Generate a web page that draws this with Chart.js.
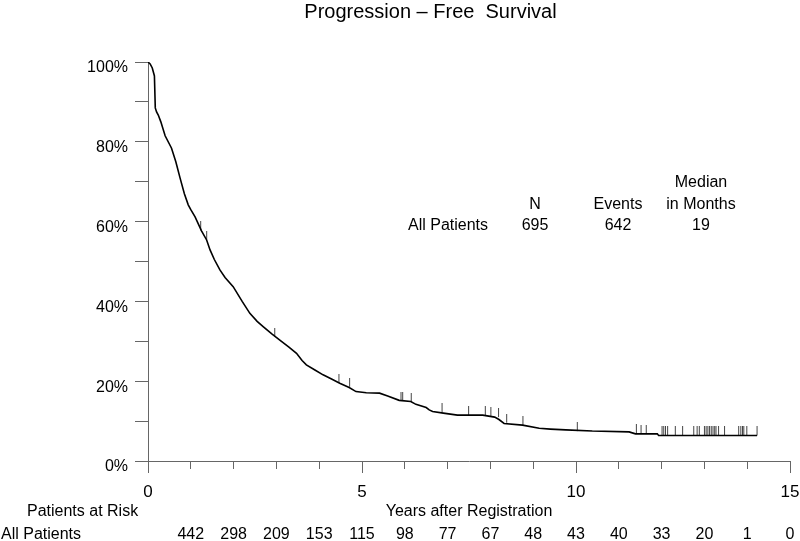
<!DOCTYPE html>
<html lang="en">
<head>
<meta charset="UTF-8">
<title>Progression - Free Survival</title>
<style>
  html, body { margin: 0; padding: 0; background: #fff; }
  #wrap { width: 800px; height: 541px; }
</style>
</head>
<body>
<div id="wrap"><canvas id="pfsChart" width="800" height="541"></canvas></div>

<script src="https://cdn.jsdelivr.net/npm/chart.js"></script>
<script>
// Kaplan-Meier curve (years, % progression-free)
const curveYears = [0, 0.05, 0.1, 0.15, 0.17, 0.2, 0.24, 0.3, 0.4, 0.55, 0.65, 0.75, 0.85, 0.94, 1.0,
  1.1, 1.25, 1.37, 1.45, 1.55, 1.68, 1.8, 1.99, 2.2, 2.38, 2.55, 2.69, 2.9, 3.08, 3.3, 3.47, 3.6,
  3.7, 3.9, 4.09, 4.3, 4.48, 4.7, 4.86, 5.1, 5.41, 5.6, 5.87, 6.14, 6.26, 6.5, 6.57, 6.65, 6.9,
  7.23, 7.82, 8.1, 8.2, 8.32, 8.75, 9.14, 9.4, 9.76, 10.38, 11.24, 11.39, 11.9, 11.93, 14.23];
const curveSurvival = [100, 99.5, 98.5, 96.5, 88.5, 87.5, 86.7, 85, 81.5, 78.4, 75, 70.9, 67, 64.2, 63,
  61.2, 57.7, 55.4, 52.9, 50.5, 47.9, 46, 43.7, 40, 37, 35, 33.7, 31.8, 30.3, 28.5, 27, 25.2,
  24.1, 22.8, 21.6, 20.5, 19.5, 18.4, 17.4, 17.1, 17, 16.3, 15.2, 14.9, 14.2, 13.4, 12.8, 12.4, 12,
  11.5, 11.5, 11, 10.4, 9.4, 9, 8.2, 8, 7.8, 7.5, 7.3, 6.8, 6.8, 6.4, 6.4];

// censored observations (tick marks on the curve)
const censorYears = [1.23, 1.37, 2.96, 4.46, 4.71, 5.91, 5.95, 6.15, 6.87, 7.49, 7.88, 8.01, 8.19,
  8.38, 8.76, 10.03, 11.41, 11.52, 11.64, 12.01, 12.05, 12.09, 12.14, 12.32, 12.49, 12.75, 12.83,
  12.88, 13.0, 13.04, 13.08, 13.12, 13.16, 13.2, 13.24, 13.27, 13.33, 13.47, 13.8, 13.85, 13.89,
  13.92, 13.99, 14.23];
const censorSurvival = [57.8, 55.5, 31.2, 19.6, 18.6, 15.1, 15.1, 14.9, 12.2, 11.5, 11.5, 11.3, 11,
  9.6, 9, 7.5, 6.9, 6.8, 6.8, 6.4, 6.4, 6.4, 6.4, 6.4, 6.4, 6.4, 6.4,
  6.4, 6.4, 6.4, 6.4, 6.4, 6.4, 6.4, 6.4, 6.4, 6.4, 6.4, 6.4, 6.4, 6.4,
  6.4, 6.4, 6.4];

// patients at risk table
const riskYears = [1, 2, 3, 4, 5, 6, 7, 8, 9, 10, 11, 12, 13, 14, 15];
const riskCounts = [442, 298, 209, 153, 115, 98, 77, 67, 48, 43, 40, 33, 20, 1, 0];

// summary table
const groupName = 'All Patients';
const groupN = 695;
const groupEvents = 642;
const groupMedian = 19;

const FONT = '"Liberation Sans", Arial, Helvetica, sans-serif';
const AXIS = '#666';

// censor mark: a short vertical stroke rising from the point
const tickMark = document.createElement('canvas');
tickMark.width = 3;
tickMark.height = 18;
const tctx = tickMark.getContext('2d');
tctx.fillStyle = '#444';
tctx.fillRect(1, 0, 1, 9);

const textLayer = {
  id: 'textLayer',
  afterDraw(chart) {
    const { ctx, scales: { x, y } } = chart;
    ctx.save();

    // longer ticks at 0, 5, 10, 15 and y axis running below zero
    ctx.strokeStyle = AXIS;
    ctx.lineWidth = 1;
    ctx.beginPath();
    [0, 5, 10, 15].forEach(v => {
      const px = Math.round(x.getPixelForValue(v)) + 0.5;
      ctx.moveTo(px, y.bottom);
      ctx.lineTo(px, y.bottom + 12);
    });
    const ax = Math.round(x.left) + 0.5;
    ctx.moveTo(ax, y.bottom);
    ctx.lineTo(ax, y.bottom + 12);
    ctx.stroke();

    ctx.fillStyle = '#000';
    ctx.font = '16px ' + FONT;
    ctx.textBaseline = 'middle';

    // summary
    ctx.textAlign = 'center';
    ctx.fillText('Median', 701, 183);
    ctx.fillText('N', 535, 205);
    ctx.fillText('Events', 618, 205);
    ctx.fillText('in Months', 701, 205);
    ctx.fillText(groupName, 448, 226);
    ctx.fillText(String(groupN), 535, 226);
    ctx.fillText(String(groupEvents), 618, 226);
    ctx.fillText(String(groupMedian), 701, 226);

    // patients at risk
    ctx.textAlign = 'left';
    ctx.fillText('Patients at Risk', 27, 512);
    ctx.fillText(groupName, 1, 535);
    ctx.textAlign = 'center';
    riskYears.forEach((yr, i) => {
      ctx.fillText(String(riskCounts[i]), x.getPixelForValue(yr), 535);
    });
    ctx.restore();
  }
};

const ctx = document.getElementById('pfsChart').getContext('2d');
const chart = new Chart(ctx, {
  type: 'scatter',
  data: {
    datasets: [{
      label: 'All Patients',
      type: 'line',
      data: curveYears.map((t, i) => ({ x: t, y: curveSurvival[i] })),
      borderColor: '#000',
      borderWidth: 1.6,
      pointRadius: 0,
      fill: false,
      tension: 0
    }, {
      label: 'Censored',
      data: censorYears.map((t, i) => ({ x: t, y: censorSurvival[i] })),
      pointStyle: tickMark,
      pointRadius: 9
    }]
  },
  options: {
    responsive: false,
    animation: false,
    layout: { padding: { left: 70, right: 9, top: 0, bottom: 0 } },
    plugins: {
      legend: { display: false },
      tooltip: { enabled: false },
      title: {
        display: true,
        text: 'Progression \u2013 Free  Survival',
        color: '#000',
        font: { family: FONT, size: 20, weight: 'normal' },
        padding: { top: 0, bottom: 38 }
      }
    },
    scales: {
      x: {
        type: 'linear',
        min: 0,
        max: 15,
        afterFit(scale) {
          scale.height = 80;
          scale.paddingRight = 0;
          scale.paddingLeft = 0;
        },
        grid: { drawOnChartArea: false, drawTicks: true, tickLength: 8, tickColor: AXIS },
        border: { display: true, color: AXIS },
        ticks: {
          stepSize: 1,
          autoSkip: false,
          maxRotation: 0,
          padding: 13,
          color: '#000',
          font: { family: FONT, size: 17 },
          callback: v => (v % 5 === 0 ? String(v) : '')
        },
        title: {
          display: true,
          text: 'Years after Registration',
          color: '#000',
          font: { family: FONT, size: 16 },
          padding: { top: 20, bottom: 20 }
        }
      },
      y: {
        min: 0,
        max: 100,
        afterFit(scale) { scale.width = 78; },
        grid: { drawOnChartArea: false, drawTicks: true, tickLength: 13, tickColor: AXIS },
        border: { display: true, color: AXIS },
        ticks: {
          stepSize: 10,
          padding: 7,
          labelOffset: 6,
          color: '#000',
          font: { family: FONT, size: 16 },
          callback: v => (v % 20 === 0 ? v + '%' : '')
        }
      }
    }
  },
  plugins: [textLayer]
});
</script>
</body>
</html>
